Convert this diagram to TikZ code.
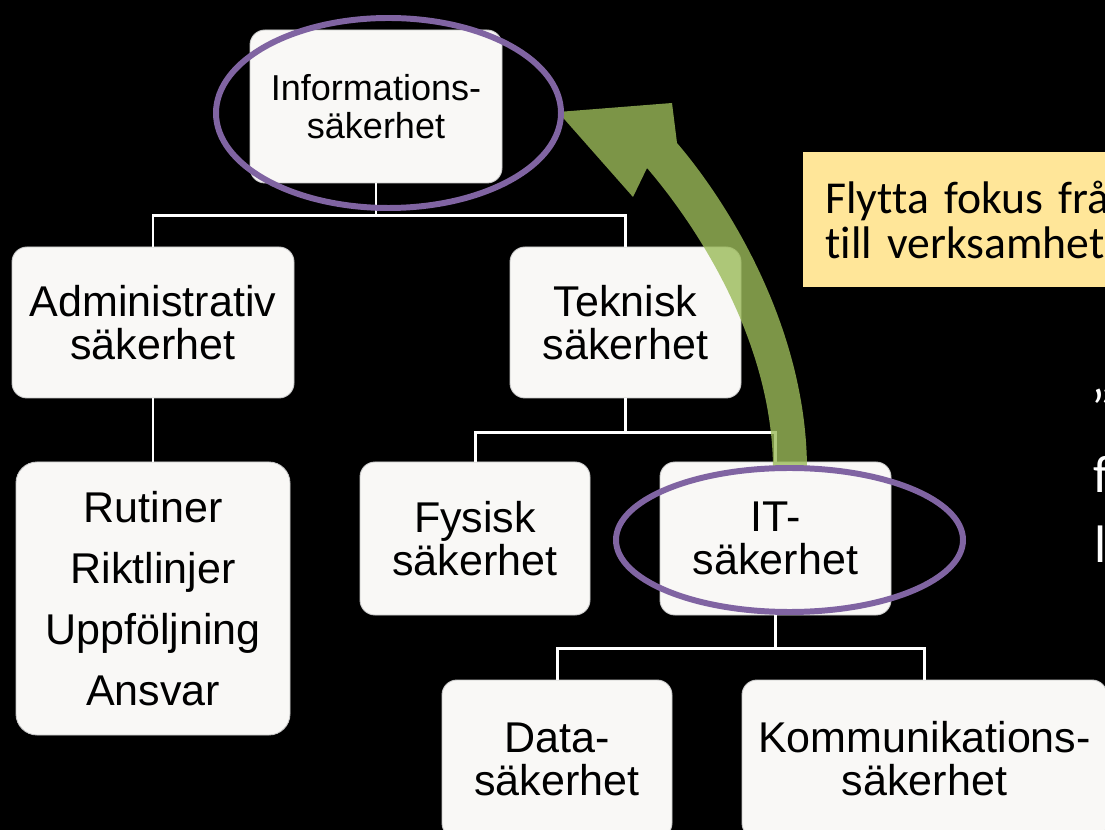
\documentclass[tikz,border=0pt]{standalone}
\usepackage{fontspec}
\setmainfont{Liberation Sans}
\newfontfamily\calibri[Ligatures=NoCommon]{Carlito}
\definecolor{boxfill}{HTML}{F9F8F6}
\definecolor{boxedge}{HTML}{C8C8C8}
\definecolor{ringpurple}{HTML}{8064A2}
\definecolor{arrowgreen}{HTML}{9BBB59}
\definecolor{notefill}{HTML}{FFE699}

\tikzset{
  orgbox/.style={draw=boxedge, line width=0.5pt, fill=boxfill, rounded corners=8.5pt,
    inner sep=0pt, align=center, text=black, font=\fontsize{24.5}{24.4}\selectfont},
  boxsize/.style 2 args={minimum width=#1*0.02cm, minimum height=#2*0.02cm},
  conn/.style={white, line width=1.7pt},
  ring/.style={draw=ringpurple, line width=3.4pt},
  fragment/.style={white, inner sep=0pt, anchor=base west, font=\calibri\fontsize{30}{36}\selectfont},
}

\begin{document}
\begin{tikzpicture}[x=0.02cm, y=-0.02cm]
  % black slide
  \useasboundingbox (0,0) rectangle (1105,830);
  \fill[black] (0,0) rectangle (1105,830);
  \clip (0,0) rectangle (1105,830);

  % top level
  \node[orgbox, boxsize={252}{153}, font=\fontsize{20.5}{21.5}\selectfont] (info) at (376,106.5) {Informations-\\säkerhet};

  % second level
  \node[orgbox, boxsize={282}{151}] (admin) at (153,322.5) {Administrativ\\säkerhet};
  \node[orgbox, boxsize={231}{151}] (tekn) at (625.5,322.5) {Teknisk\\säkerhet};

  % third level
  \node[orgbox, boxsize={274}{273}, rounded corners=12pt, font=\fontsize{24.5}{34.6}\selectfont] (rutin) at (153,598.5)
    {Rutiner\\Riktlinjer\\Uppföljning\\Ansvar};
  \node[orgbox, boxsize={230}{153}] (fysisk) at (475,538.5) {Fysisk\\säkerhet};
  \node[orgbox, boxsize={231}{153}] (it) at (775.5,538.5) {IT-\\säkerhet};

  % fourth level
  \node[orgbox, boxsize={230}{158}] (data) at (557,759) {Data-\\säkerhet};
  \node[orgbox, boxsize={365}{158}] (komm) at (924.5,759) {Kommunikations-\\säkerhet};

  % tree lines
  \draw[conn] (info.south) -- ++(0,32) -| (admin.north);
  \draw[conn] (info.south) -- ++(0,32) -| (tekn.north);
  \draw[conn] (admin.south) -- (rutin.north);
  \draw[conn] (tekn.south) -- ++(0,34) -| (fysisk.north);
  \draw[conn] (tekn.south) -- ++(0,34) -| (it.north);
  \draw[conn] (it.south) -- ++(0,33) -| (data.north);
  \draw[conn] (it.south) -- ++(0,33) -| (komm.north);

  % curved green arrow
  \fill[arrowgreen, fill opacity=0.8] (807,470) .. controls (807,330) and (730,205) .. (677,143)
    -- (672,103) -- (558,112) -- (633,197) -- (647,168)
    .. controls (695,224) and (773,340) .. (773,470) -- cycle;

  % purple rings
  \draw[ring] (388.5,113) ellipse [x radius=172.5, y radius=95];
  \draw[ring] (789.5,540) ellipse [x radius=173.5, y radius=72];

  % yellow note
  \node[fill=notefill, anchor=north west, minimum height=135*0.02cm, text width=300*0.02cm,
    inner xsep=22*0.02cm, inner ysep=0pt, align=left, font=\calibri\fontsize{26}{25.5}\selectfont]
    (note) at (803,152) {Flytta fokus frå\\till verksamhet};

  % cut-off text at the right edge
  \node[fragment] (quote) at (1091,396) {„};
  \node[fragment] (fline) at (1093,493) {f};
  \node[fragment] (lline) at (1094,562) {l};
\end{tikzpicture}
\end{document}
